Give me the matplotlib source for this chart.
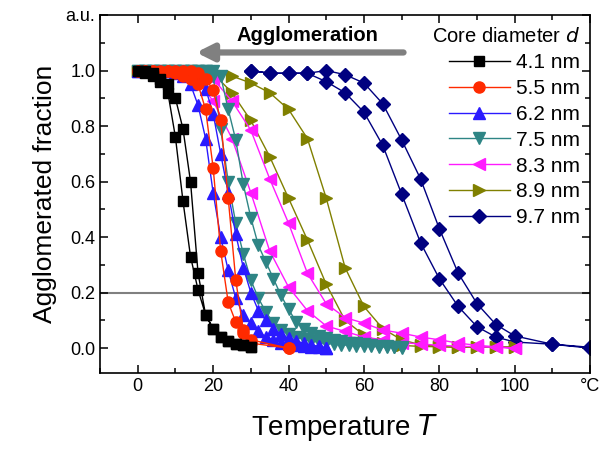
import numpy as np
import matplotlib
matplotlib.use("Agg")
import matplotlib.pyplot as plt
from matplotlib.ticker import MultipleLocator, FixedLocator

plt.rcParams['font.family'] = ['Liberation Sans', 'DejaVu Sans']

# --- data: each size has two branches (left / right) on the same T grid ---
labels = ['4.1 nm', '5.5 nm', '6.2 nm', '7.5 nm', '8.3 nm', '8.9 nm', '9.7 nm']
colors = ['#000000', '#ff2a00', '#2a1aff', '#2e8585', '#ff1aff', '#808000', '#000080']
markers = ['s', 'o', '^', 'v', '<', '>', 'D']

t_41 = np.arange(0, 31, 2)
a_41 = [1.0, 0.99, 0.98, 0.96, 0.92, 0.76, 0.53, 0.33, 0.21, 0.12, 0.07, 0.04, 0.025, 0.015, 0.01, 0.005]
b_41 = [1.0, 1.0, 0.99, 0.97, 0.95, 0.90, 0.79, 0.60, 0.27, 0.12, 0.07, 0.04, 0.025, 0.015, 0.01, 0.005]

t_55 = np.r_[np.arange(0, 31, 2), 40]
a_55 = [1.0, 1.0, 1.0, 0.99, 1.0, 0.99, 0.98, 0.97, 0.95, 0.86, 0.65, 0.35, 0.165, 0.094, 0.054, 0.018, 0.0]
b_55 = [1.0, 1.0, 1.0, 1.0, 1.0, 1.0, 1.0, 1.0, 0.99, 0.97, 0.93, 0.82, 0.54, 0.245, 0.065, 0.03, 0.0]

t_62 = np.arange(0, 51, 2)
a_62 = [1.0, 1.0, 1.0, 1.0, 1.0, 0.99, 0.98, 0.95, 0.875, 0.755, 0.56, 0.40, 0.28, 0.18, 0.12,
        0.09, 0.06, 0.04, 0.03, 0.02, 0.015, 0.01, 0.008, 0.005, 0.003, 0.0]
b_62 = [1.0, 1.0, 1.0, 1.0, 1.0, 1.0, 1.0, 0.99, 0.97, 0.935, 0.845, 0.70, 0.56, 0.41, 0.29,
        0.20, 0.135, 0.10, 0.07, 0.05, 0.035, 0.025, 0.018, 0.012, 0.006, 0.002]

t_75 = np.arange(0, 71, 2)
a_75 = [1.0] * 10 + [0.98, 0.79, 0.60, 0.45, 0.34, 0.245, 0.18, 0.13, 0.09, 0.065, 0.05, 0.04, 0.032,
                     0.026, 0.021, 0.017, 0.014, 0.012, 0.01, 0.008, 0.007, 0.006, 0.005, 0.004, 0.003, 0.002]
b_75 = [1.0] * 11 + [0.98, 0.86, 0.75, 0.59, 0.47, 0.37, 0.31, 0.25, 0.19, 0.14, 0.095, 0.07, 0.055,
                     0.045, 0.037, 0.03, 0.025, 0.02, 0.017, 0.014, 0.011, 0.009, 0.007, 0.005, 0.003]

t_83 = np.arange(0, 101, 5)
a_83 = [1.0, 1.0, 0.99, 0.98, 0.89, 0.755, 0.56, 0.35, 0.22, 0.135, 0.08, 0.06, 0.04, 0.03, 0.02,
        0.015, 0.01, 0.007, 0.005, 0.003, 0.0]
b_83 = [1.0, 1.0, 1.0, 0.99, 0.97, 0.89, 0.785, 0.61, 0.45, 0.27, 0.16, 0.11, 0.09, 0.065, 0.054,
        0.04, 0.03, 0.018, 0.01, 0.005, 0.0]

t_89 = np.arange(0, 101, 5)
a_89 = [1.0, 1.0, 1.0, 1.0, 0.99, 0.92, 0.82, 0.69, 0.54, 0.39, 0.23, 0.10, 0.047, 0.018, 0.01,
        0.006, 0.005, 0.004, 0.004, 0.003, 0.003]
b_89 = [1.0, 1.0, 1.0, 1.0, 1.0, 0.98, 0.955, 0.92, 0.86, 0.755, 0.54, 0.29, 0.15, 0.07, 0.03,
        0.012, 0.006, 0.005, 0.004, 0.004, 0.003]

t_97 = np.r_[np.arange(30, 101, 5), 110, 120]
a_97 = [1.0, 0.99, 0.99, 0.99, 0.96, 0.92, 0.85, 0.73, 0.555, 0.38, 0.25, 0.15, 0.077, 0.04, 0.022, 0.014, 0.003]
b_97 = [1.0, 0.99, 0.99, 0.99, 1.0, 0.985, 0.955, 0.88, 0.75, 0.61, 0.43, 0.27, 0.16, 0.085, 0.044, 0.014, 0.0]

temps = [t_41, t_55, t_62, t_75, t_83, t_89, t_97]
left = [a_41, a_55, a_62, a_75, a_83, a_89, a_97]
right = [b_41, b_55, b_62, b_75, b_83, b_89, b_97]

fig = plt.figure(figsize=(6.04, 4.49), dpi=100)
ax = fig.add_axes([0.1656, 0.169, 0.8115, 0.7976])

handles = [None] * len(labels)
for i in reversed(range(len(labels))):
    t = np.asarray(temps[i])
    x = np.r_[t, t[::-1]]
    y = np.r_[left[i], right[i][::-1]]
    ms = 7 if markers[i] in ('s', 'D') else 8
    h, = ax.plot(x, y, color=colors[i], marker=markers[i], ms=ms, lw=1.0,
                 mec=colors[i], mfc=colors[i], label=labels[i])
    handles[i] = h

ax.axhline(0.2, color='#808080', lw=1.5, zorder=0)

ax.annotate('', xy=(15.5, 1.065), xytext=(70.5, 1.065),
            arrowprops=dict(arrowstyle='-|>,head_length=1.0,head_width=0.5',
                            color='#808080', lw=4.5, shrinkA=0, shrinkB=0))
ax.text(45, 1.125, 'Agglomeration', ha='center', va='center',
        fontsize=14.5, fontweight='bold')

ax.set_xlim(-10, 120)
ax.set_ylim(-0.09, 1.2)

xt = [0, 20, 40, 60, 80, 100, 120]
ax.xaxis.set_major_locator(FixedLocator(xt))
ax.set_xticklabels(['0', '20', '40', '60', '80', '100', '°C'])
ax.xaxis.set_minor_locator(MultipleLocator(10))
yt = [0.0, 0.2, 0.4, 0.6, 0.8, 1.0, 1.2]
ax.yaxis.set_major_locator(FixedLocator(yt))
ax.set_yticklabels(['0.0', '0.2', '0.4', '0.6', '0.8', '1.0', 'a.u.'])
ax.yaxis.set_minor_locator(MultipleLocator(0.1))

ax.tick_params(which='both', direction='in', top=True, right=True, width=1.1, labelsize=13)
ax.tick_params(which='major', length=6)
ax.tick_params(which='minor', length=3.5)
for s in ax.spines.values():
    s.set_linewidth(1.2)

ax.set_xlabel('Temperature $T$', fontsize=20, labelpad=12)
ax.set_ylabel('Agglomerated fraction', fontsize=19, labelpad=6)

leg = ax.legend(handles=handles, title='Core diameter $d$', loc='upper right',
                frameon=False, fontsize=15, title_fontsize=14.5, handlelength=2.9,
                handletextpad=0.3, labelspacing=0.33, borderaxespad=0.1,
                alignment='right', bbox_to_anchor=(1.0, 0.995))

fig.savefig('out.png', dpi=100)
